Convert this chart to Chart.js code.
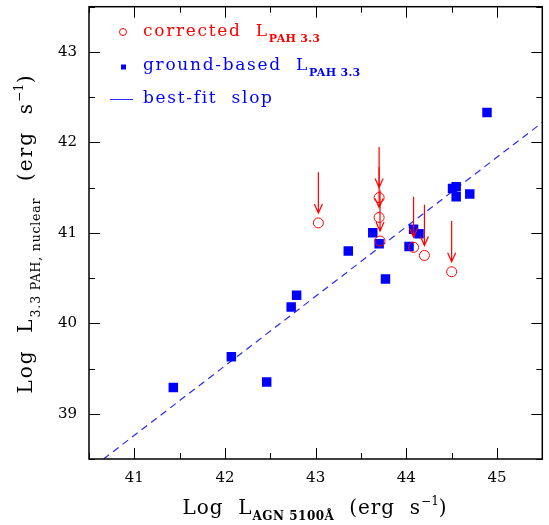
<!DOCTYPE html>
<html>
<head>
<meta charset="utf-8">
<script src="https://cdn.jsdelivr.net/npm/chart.js@4.4.1/dist/chart.umd.min.js"></script>
<style>
  html, body { margin: 0; padding: 0; background: #fff; }
</style>
</head>
<body>
<canvas id="grafico" width="549" height="525"></canvas>
<script>
// ground-based L_PAH 3.3 (quadrados azuis)
const soloX = [41.43, 42.07, 42.46, 42.73, 42.79, 43.36, 43.63, 43.70, 43.77, 44.03, 44.08, 44.14, 44.51, 44.55, 44.55, 44.70, 44.89];
const soloY = [39.29, 39.63, 39.35, 40.18, 40.31, 40.80, 41.00, 40.88, 40.49, 40.85, 41.04, 40.99, 41.49, 41.51, 41.40, 41.43, 42.33];

// corrected L_PAH 3.3 (círculos vermelhos) e início de cada seta
const corrX = [43.03, 43.70, 43.70, 43.71, 44.08, 44.20, 44.50];
const corrY = [41.11, 41.39, 41.17, 40.91, 40.84, 40.75, 40.57];
const setaTopo = [41.67, 41.95, 41.73, 41.47, 41.40, 41.31, 41.13];

// best-fit slope (extremos)
const ajusteX = [40.66, 45.5];
const ajusteY = [38.5, 42.22];

const ticksX = [41, 42, 43, 44, 45];
const ticksY = [39, 40, 41, 42, 43];

const VERMELHO = '#ff0000';
const AZUL = '#0000ff';
const SERIF = '"DejaVu Serif", "Liberation Serif", serif';

const pontos = (xs, ys) => xs.map((x, i) => ({ x: x, y: ys[i] }));

// escreve uma sequência de pedaços de texto (com sub/sobrescritos)
function escreve(ctx, partes, x, y, alinhamento) {
  const larguras = partes.map(p => {
    ctx.font = p[1];
    ctx.letterSpacing = '0px';
    return ctx.measureText(p[0]).width + p[3] * p[0].length;
  });
  const total = larguras.reduce((a, b) => a + b, 0);
  let cx = alinhamento === 'center' ? x - total / 2 : x;
  ctx.textAlign = 'left';
  ctx.textBaseline = 'alphabetic';
  partes.forEach((p, i) => {
    ctx.font = p[1];
    ctx.letterSpacing = p[3] + 'px';
    ctx.fillText(p[0], cx, y + p[2]);
    cx += larguras[i];
  });
  ctx.letterSpacing = '0px';
}

const molduraPlugin = {
  id: 'moldura',
  afterDatasetsDraw(chart) {
    const ctx = chart.ctx;
    const sx = chart.scales.x, sy = chart.scales.y;
    ctx.save();
    ctx.strokeStyle = VERMELHO;
    ctx.lineWidth = 1.2;
    corrX.forEach((v, i) => {
      const px = sx.getPixelForValue(v);
      const y0 = sy.getPixelForValue(setaTopo[i]);
      const y1 = sy.getPixelForValue(corrY[i]) - 10;
      ctx.beginPath();
      ctx.moveTo(px, y0);
      ctx.lineTo(px, y1);
      ctx.moveTo(px - 4, y1 - 9);
      ctx.lineTo(px, y1);
      ctx.lineTo(px + 4, y1 - 9);
      ctx.stroke();
    });
    ctx.restore();
  },
  afterDraw(chart) {
    const ctx = chart.ctx;
    const a = chart.chartArea;
    const sx = chart.scales.x, sy = chart.scales.y;
    ctx.save();

    // moldura e marcas para dentro
    ctx.strokeStyle = '#000';
    ctx.lineWidth = 1.5;
    ctx.strokeRect(a.left, a.top, a.right - a.left, a.bottom - a.top);
    ctx.lineWidth = 1;
    ctx.beginPath();
    for (let v = sx.min; v <= sx.max + 1e-9; v += 0.5) {
      const px = Math.round(sx.getPixelForValue(v)) + 0.5;
      const len = ticksX.includes(v) ? 11 : 6;
      ctx.moveTo(px, a.bottom); ctx.lineTo(px, a.bottom - len);
      ctx.moveTo(px, a.top); ctx.lineTo(px, a.top + len);
    }
    for (let v = sy.min; v <= sy.max + 1e-9; v += 0.5) {
      const py = Math.round(sy.getPixelForValue(v)) + 0.5;
      const len = ticksY.includes(v) ? 11 : 6;
      ctx.moveTo(a.left, py); ctx.lineTo(a.left + len, py);
      ctx.moveTo(a.right, py); ctx.lineTo(a.right - len, py);
    }
    ctx.stroke();

    // títulos dos eixos
    ctx.fillStyle = '#000';
    const f = '20px ' + SERIF;
    const fsub = 'bold 12px ' + SERIF;
    const fsup = '12px ' + SERIF;
    escreve(ctx, [
      ['Log  L', f, 0, 1],
      ['AGN 5100Å', fsub, 6, 0.5],
      ['  (erg  s', f, 0, 1],
      ['−1', fsup, -9, 0],
      [')', f, 0, 1]
    ], 315, 514, 'center');

    ctx.save();
    ctx.translate(32, 234);
    ctx.rotate(-Math.PI / 2);
    escreve(ctx, [
      ['Log  L', f, 0, 2],
      ['3.3 PAH, nuclear', '12.5px ' + SERIF, 8, 0.8],
      ['  (erg  s', f, 0, 2],
      ['−1', fsup, -9, 0.5],
      [')', f, 0, 1]
    ], 0, 0, 'center');
    ctx.restore();

    // legenda
    const fl = '17px ' + SERIF;
    const fls = 'bold 11px ' + SERIF;
    ctx.strokeStyle = VERMELHO;
    ctx.lineWidth = 1;
    ctx.beginPath();
    ctx.arc(123, 32, 3.5, 0, Math.PI * 2);
    ctx.stroke();
    ctx.fillStyle = VERMELHO;
    escreve(ctx, [['corrected  L', fl, 0, 1.7], ['PAH 3.3', fls, 6, 0.3]], 143, 36, 'left');

    ctx.fillStyle = AZUL;
    ctx.fillRect(121, 64.5, 5, 5);
    escreve(ctx, [['ground-based  L', fl, 0, 1.7], ['PAH 3.3', fls, 6, 0.3]], 143, 69.5, 'left');

    ctx.strokeStyle = '#2a2aff';
    ctx.beginPath();
    ctx.moveTo(110, 99.5);
    ctx.lineTo(133, 99.5);
    ctx.stroke();
    escreve(ctx, [['best-fit  slop', fl, 0, 1.7]], 143, 103, 'left');

    ctx.restore();
  }
};

const semFolga = s => { s.paddingTop = 0; s.paddingBottom = 0; s.paddingLeft = 0; s.paddingRight = 0; };

const ctx = document.getElementById('grafico').getContext('2d');
const grafico = new Chart(ctx, {
  type: 'scatter',
  data: {
    datasets: [
      {
        label: 'corrected L_PAH 3.3',
        data: pontos(corrX, corrY),
        pointStyle: 'circle',
        pointRadius: 5,
        borderColor: VERMELHO,
        borderWidth: 1,
        backgroundColor: 'rgba(0,0,0,0)'
      },
      {
        label: 'ground-based L_PAH 3.3',
        data: pontos(soloX, soloY),
        pointStyle: 'rect',
        pointRadius: 6.7,
        borderWidth: 0,
        backgroundColor: AZUL
      },
      {
        label: 'best-fit slop',
        type: 'line',
        data: pontos(ajusteX, ajusteY),
        borderColor: '#2a2aff',
        borderWidth: 1.2,
        borderDash: [7, 5],
        pointRadius: 0,
        fill: false
      }
    ]
  },
  options: {
    responsive: false,
    animation: false,
    layout: { padding: { top: 4.5, right: 6, left: 0, bottom: 0 } },
    plugins: {
      legend: { display: false },
      tooltip: { enabled: false }
    },
    scales: {
      x: {
        type: 'linear',
        min: 40.5,
        max: 45.5,
        grid: { display: false, drawTicks: false },
        border: { display: false },
        afterBuildTicks: s => { s.ticks = ticksX.map(v => ({ value: v })); },
        afterFit: s => { s.height = 66; semFolga(s); },
        ticks: {
          padding: 10,
          color: '#000',
          font: { family: SERIF, size: 15 },
          callback: v => v
        }
      },
      y: {
        type: 'linear',
        min: 38.5,
        max: 43.5,
        grid: { display: false, drawTicks: false },
        border: { display: false },
        afterBuildTicks: s => { s.ticks = ticksY.map(v => ({ value: v })); },
        afterFit: s => { s.width = 89; semFolga(s); },
        ticks: {
          padding: 12,
          color: '#000',
          font: { family: SERIF, size: 15 },
          callback: v => v
        }
      }
    }
  },
  plugins: [molduraPlugin]
});
</script>
</body>
</html>
